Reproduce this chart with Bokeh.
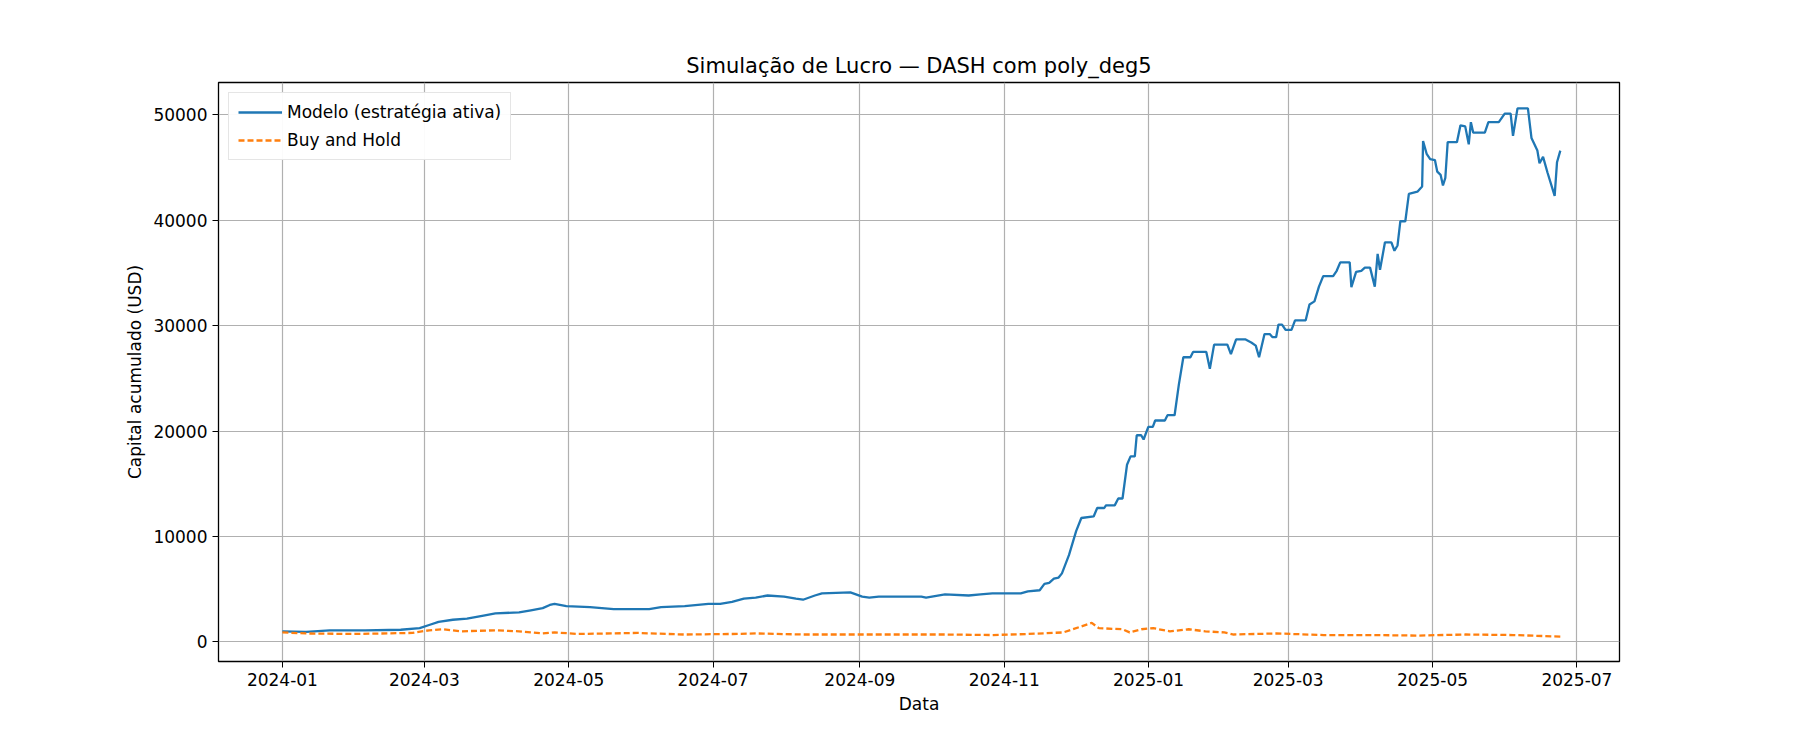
import pandas as pd
from bokeh.plotting import figure
from bokeh.models import DatetimeTickFormatter, MonthsTicker, Range1d, Legend, LegendItem
from bokeh.embed import file_html
from bokeh.resources import INLINE

inicio = pd.Timestamp("2024-01-01")

# dias desde 2024-01-01 e capital do modelo
dias_modelo = [0, 10, 20, 35, 50, 58, 62, 66, 72, 78, 85, 90, 100, 105, 110, 113, 115, 120, 130, 140,
               150, 155, 160, 170, 180, 185, 190, 195, 200, 205, 212, 217, 220, 225, 228, 240, 245, 248,
               252, 270, 272, 280, 290, 295, 300, 312, 315, 320, 322, 324, 326, 328,
               329.4, 332.4, 335.4, 337.6, 342.8, 344.3, 347.3, 348, 351.7, 353.2, 355, 356.9, 358.4,
               360.2, 361, 362.9, 363.9, 365.9, 367.8, 368.8, 372.9, 374, 377, 378.8, 380.7, 383.7,
               384.8, 390.4, 391.9, 393.7, 399.3, 400.8, 403, 406.8, 409.4, 411.3, 412.7, 415, 417.2,
               418.4, 419.9, 420.9, 422.4, 423.9, 426.4, 427.9, 432.4, 434, 436.1, 438, 439.8, 444,
               445.5, 447, 451, 451.7, 453.7, 455.9, 457.4, 459.6, 461.6, 462.8, 463.8, 465.9, 468.6,
               469.9, 471.2, 472.4, 474.5, 476, 479.6, 481.6, 482, 483.5, 485, 487, 488, 489.4, 490.4,
               491.4, 492.4, 496.3, 497.8, 499.8, 501.3, 502.2, 503.2, 508.1, 509.6, 514, 516.5, 519,
               520, 521.9, 526.3, 527.8, 530.3, 531.2, 532.7, 534.6, 537.6, 538.6, 540]
capital_modelo = [1000, 950, 1100, 1100, 1150, 1300, 1600, 1900, 2100, 2200, 2500, 2700, 2800, 3000, 3200,
                  3500, 3600, 3400, 3300, 3100, 3100, 3100, 3300, 3400, 3600, 3600, 3800, 4100, 4200,
                  4400, 4300, 4100, 4000, 4400, 4600, 4700, 4300, 4200, 4300, 4300, 4200, 4500, 4400,
                  4500, 4600, 4600, 4800, 4900, 5500, 5600, 6000, 6100,
                  6500, 8250, 10500, 11750, 11900, 12700, 12700, 12950, 12950, 13600, 13600, 16800,
                  17600, 17600, 19600, 19600, 19200, 20400, 20400, 21000, 21000, 21500, 21500, 24400,
                  27000, 27000, 27500, 27500, 25900, 28200, 28200, 27300, 28700, 28700, 28400, 28100,
                  27000, 29200, 29200, 28900, 28900, 30100, 30100, 29600, 29600, 30500, 30500, 32000,
                  32300, 33700, 34700, 34700, 35200, 36000, 36000, 33650, 35100, 35200, 35500, 35500,
                  33700, 36800, 35300, 37900, 37900, 37100, 37600, 39900, 39900, 42500, 42700, 43200,
                  47500, 46300, 45800, 45700, 44600, 44300, 43300, 44000, 47400, 47400, 49000, 48900,
                  47200, 49300, 48300, 48300, 49300, 49300, 50100, 50100, 48000, 50600, 50600, 47800,
                  46600, 45400, 46000, 44500, 42300, 45500, 46600]

# dias desde 2024-01-01 e capital buy and hold
dias_bh = [0, 10, 30, 55, 62, 68, 75, 90, 100, 110, 115, 125, 150, 170, 190, 200, 220, 250, 280, 300,
           315, 330, 338, 342, 345, 355, 358, 363, 368, 375, 383, 390, 398, 402, 420, 440, 460, 480,
           500, 520, 540]
capital_bh = [900, 800, 750, 850, 1100, 1200, 1000, 1100, 1000, 800, 900, 750, 850, 700, 750, 800, 700,
              700, 700, 650, 750, 900, 1500, 1800, 1300, 1200, 900, 1200, 1300, 1000, 1200, 1000, 900,
              700, 800, 650, 650, 600, 700, 650, 500]

datas_modelo = [inicio + pd.Timedelta(days=d) for d in dias_modelo]
datas_bh = [inicio + pd.Timedelta(days=d) for d in dias_bh]

p = figure(width=1784, height=734, x_axis_type="datetime", output_backend="svg", toolbar_location=None,
           title="Simulação de Lucro — DASH com poly_deg5",
           x_range=Range1d(inicio - pd.Timedelta(days=27), inicio + pd.Timedelta(days=565)),
           y_range=Range1d(-1860, 53060))
p.min_border_left = 218
p.min_border_right = 165
p.min_border_top = 82
p.min_border_bottom = 73

p.title.align = "center"
p.title.text_font = "DejaVu Sans"
p.title.text_font_style = "normal"
p.title.text_font_size = "21px"
p.title.text_color = "black"

l1 = p.line(datas_modelo, capital_modelo, line_color="#1f77b4", line_width=2.3)
l2 = p.line(datas_bh, capital_bh, line_color="#ff7f0e", line_width=2.3, line_dash="6 3")

# MonthsTicker usa meses a partir de 0 (0 = janeiro)
p.xaxis.ticker = MonthsTicker(months=[0, 2, 4, 6, 8, 10])
p.xaxis.formatter = DatetimeTickFormatter(months="%Y-%m", days="%Y-%m")
p.xaxis.axis_label = "Data"
p.yaxis.axis_label = "Capital acumulado (USD)"
p.yaxis.ticker = [0, 10000, 20000, 30000, 40000, 50000]
for ax in (p.xaxis[0], p.yaxis[0]):
    ax.axis_label_text_font = "DejaVu Sans"
    ax.axis_label_text_font_style = "normal"
    ax.axis_label_text_font_size = "17px"
    ax.axis_label_text_color = "black"
    ax.major_label_text_font = "DejaVu Sans"
    ax.major_label_text_font_size = "17px"
    ax.major_label_text_color = "black"
    ax.minor_tick_line_color = None
    ax.major_tick_out = 6
    ax.major_tick_in = 0
    ax.axis_line_color = None
    ax.major_tick_line_color = "black"
p.yaxis.major_label_orientation = "horizontal"

p.xgrid.grid_line_color = "#b0b0b0"
p.ygrid.grid_line_color = "#b0b0b0"
p.xgrid.grid_line_width = 1.2
p.ygrid.grid_line_width = 1.2
p.outline_line_color = "black"
p.outline_line_width = 1.3

legend = Legend(items=[LegendItem(label="Modelo (estratégia ativa)", renderers=[l1]),
                       LegendItem(label="Buy and Hold", renderers=[l2])],
                location="top_left")
legend.label_text_font = "DejaVu Sans"
legend.label_text_font_size = "17px"
legend.label_text_color = "black"
legend.border_line_color = "#cccccc"
legend.glyph_width = 44
legend.spacing = 8
legend.padding = 9
legend.margin = 10
p.add_layout(legend)

open("out.html", "w").write(file_html(p, INLINE))
